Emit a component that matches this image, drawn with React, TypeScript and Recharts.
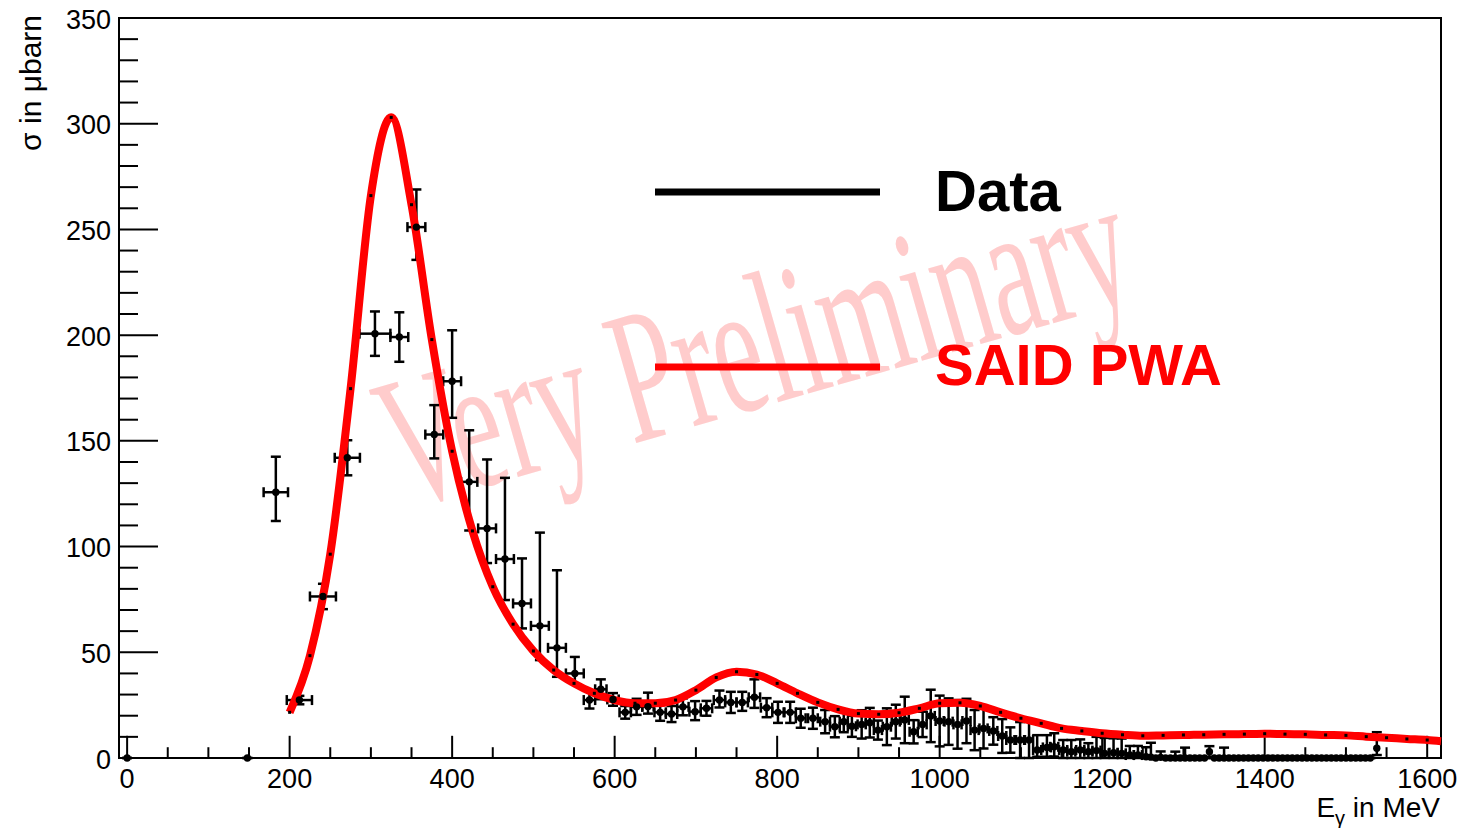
import React from 'react';
import {
  ComposedChart, Line, Scatter, ErrorBar, XAxis, YAxis, ReferenceLine, ReferenceArea,
} from 'recharts';

const W = 1464;
const H = 828;
const FONT = '"Liberation Sans", Arial, Helvetica, sans-serif';

// measured cross section: E_gamma (MeV), sigma (microbarn), asymmetric errors, half bin width
const dataE = [
  0, 148, 183, 212, 241, 271, 305, 335, 356, 378, 400, 421, 443, 465, 486, 508, 529, 551,
  569, 583, 598, 613, 627, 641, 656, 670, 684, 699, 713, 729, 743, 757, 772, 787, 801, 816, 829, 844, 859, 871, 882, 892,
  904, 914, 924, 935, 946, 957, 968, 979, 989, 1000, 1011, 1022, 1033, 1043, 1054, 1066, 1077, 1087, 1099, 1110,
  1120, 1132, 1141, 1152, 1162, 1173, 1183, 1193, 1203, 1214, 1224, 1234, 1244,
];
const dataSigma = [
  0, 0, 125.7, 27.4, 76.4, 142, 200.7, 199.1, 251.1, 153, 178.2, 130.6, 108.6, 94.1, 73.1, 62.5, 52.1, 40,
  27.4, 32.5, 27.7, 21.6, 24.2, 24.3, 21.6, 20.8, 24.2, 21.9, 23.5, 27.4, 26.3, 26.3, 28.7, 23.8, 21.6, 21.6, 18.8, 18.8, 17.2, 14.8, 17.2, 15,
  15.9, 16.7, 13.2, 14.8, 17.2, 18, 12.4, 15.9, 19.9, 17.5, 17.2, 15.9, 17.5, 13.2, 14, 12.8, 10.4, 8.5, 8.5, 8.5,
  3.8, 5, 5.3, 3.8, 3, 3.8, 3, 3.5, 2.2, 2.5, 2.2, 1.4, 1.4,
];
const dataErrLo = [
  0, 0, 13.6, 2, 6, 8.3, 10.5, 11.7, 15.5, 11.3, 17.3, 23, 16.4, 19.4, 11.8, 16.2, 13.7, 4.7,
  4, 4.7, 3, 3, 3.8, 3.3, 4, 3.8, 4, 4, 3.5, 3.5, 5, 4, 5, 4.5, 5, 5, 4.5, 5, 5.5, 5, 5, 5,
  6.7, 7, 4.5, 8.7, 8, 11, 5.5, 6, 12.4, 12, 11, 11.5, 10.5, 9.5, 9.5, 6.5, 8, 6, 8.5, 8.5,
  3.2, 4.4, 4.6, 3.8, 3, 3.8, 3, 3.5, 2.2, 2.5, 2.2, 1.4, 1.4,
];
const dataErrHi = [
  0, 0, 16.8, 2, 6, 8.3, 10.5, 11.7, 17.8, 13.9, 24.1, 24.4, 32.6, 38.4, 21.3, 44.1, 36.7, 7.8,
  4, 4.7, 3, 3, 3.8, 6.6, 4, 3.8, 4, 5, 3.5, 4.5, 5, 5, 8.5, 4.5, 5, 5, 4.5, 5, 5.5, 5, 5, 5,
  6.7, 7, 4.5, 8.7, 8, 11, 5.5, 6, 12.4, 12, 11, 11.5, 10.5, 9.5, 9.5, 6.5, 8, 6, 8.5, 9.5,
  7, 5.8, 6.4, 4.7, 5.5, 5, 4, 6.5, 7.3, 6.8, 7, 4.3, 4.3,
];
const dataHalfBin = [
  0, 0, 15, 15.5, 16, 15.5, 19, 11, 11, 11, 11, 10, 11, 11, 11, 11, 11, 11,
  7, 7, 7, 7, 7, 7, 7, 7, 7, 7, 7, 7, 7, 7, 7, 7, 7, 7, 6, 6, 6, 6, 5, 5,
  5, 5, 5, 5, 5, 5, 5, 5, 5, 5, 5, 5, 5, 5, 5, 5, 5, 5, 5, 5,
  5, 5, 5, 5, 5, 5, 5, 5, 5, 5, 5, 5, 5,
];

// high energy tail, mostly empty bins
const tailE = [
  1254, 1260, 1266, 1272, 1278, 1284, 1290, 1296, 1302, 1308, 1314, 1320, 1326, 1332, 1338, 1344,
  1350, 1356, 1362, 1368, 1374, 1380, 1386, 1392, 1398, 1404, 1410, 1416, 1422, 1428, 1434, 1440,
  1446, 1452, 1458, 1464, 1470, 1476, 1482, 1488, 1494, 1500, 1506, 1512, 1518, 1524, 1530, 1538,
];
const tailSigma = [
  0.6, 0.4, 0, 0.3, 0, 0, 0, 0, 0, 0, 0, 0, 0, 3, 0, 0,
  0, 0, 0, 0, 0, 0, 0, 0, 0, 0, 0, 0, 0, 0, 0, 0,
  0, 0, 0, 0, 0, 0, 0, 0, 0, 0, 0, 0, 0, 0, 0, 4.6,
];
const tailErrLo = [
  0.6, 0.4, 0, 0.3, 0, 0, 0, 0, 0, 0, 0, 0, 0, 2.5, 0, 0,
  0, 0, 0, 0, 0, 0, 0, 0, 0, 0, 0, 0, 0, 0, 0, 0,
  0, 0, 0, 0, 0, 0, 0, 0, 0, 0, 0, 0, 0, 0, 0, 3.2,
];
const tailErrHi = [
  4.5, 6.8, 0, 2.8, 0, 0, 3, 0, 4.9, 0, 0, 0, 0, 2.6, 0, 0,
  4.9, 0, 0, 0, 0, 0, 0, 0, 0, 0, 0, 0, 0, 0, 0, 0,
  0, 0, 0, 0, 0, 0, 0, 0, 0, 0, 0, 0, 0, 0, 0, 7.6,
];

// SAID PWA prediction (last value read at the right frame edge)
const saidE = [
  200, 225, 250, 275, 300, 325, 350, 375, 400, 425, 450, 475, 500, 525, 550, 575, 600, 625, 650, 675,
  700, 725, 750, 775, 800, 825, 850, 875, 900, 925, 950, 975, 1000, 1025, 1050, 1075, 1100, 1125, 1150, 1175,
  1200, 1225, 1250, 1275, 1300, 1325, 1350, 1375, 1400, 1425, 1450, 1475, 1500, 1525, 1550, 1575, 1600, 1617,
];
const saidSigma = [
  21.6, 48.4, 96.4, 174.7, 266, 303, 261.7, 197.9, 145.1, 107.4, 81, 63.3, 50.6, 41.6, 35.3, 30.6, 27.4, 25.9, 25.9, 27.4,
  32.1, 38.1, 40.8, 39.5, 35.3, 30.6, 26.3, 23, 21, 20.7, 21.4, 23.5, 25.9, 26.1, 24.6, 21.6, 18.8, 16.4, 14, 12.8,
  11.7, 11, 10.5, 10.7, 10.9, 11, 11.2, 11.3, 11.5, 11.3, 11.2, 10.9, 10.7, 10.1, 9.6, 9, 8.5, 7.9,
];

const xTicks = [0, 200, 400, 600, 800, 1000, 1200, 1400, 1600];
const yTicks = [0, 50, 100, 150, 200, 250, 300, 350];
const X_MIN = -10;
const X_MAX = 1617;

const points = [
  ...dataE.map((e, i) => ({ x: e, y: dataSigma[i], ey: [dataErrLo[i], dataErrHi[i]], ex: dataHalfBin[i] })),
  ...tailE.map((e, i) => ({ x: e, y: tailSigma[i], ey: [tailErrLo[i], tailErrHi[i]], ex: 0 })),
];
const said = saidE.map((e, i) => ({ x: e, y: saidSigma[i] }));

// ROOT style ticks drawn inside the frame
const xMinor: number[] = [];
for (let v = 50; v < X_MAX; v += 50) if (v % 200 !== 0) xMinor.push(v);
const yMinor: number[] = [];
for (let v = 10; v < 350; v += 10) if (v % 50 !== 0) yMinor.push(v);

const XTick = ({ x, y, payload }: any) => (
  <text x={x} y={y + 30} textAnchor="middle" fontSize={27} fontFamily={FONT} fill="#000">
    {payload.value}
  </text>
);

const YTick = ({ x, y, payload }: any) => (
  <text x={x - 8} y={y + 10.5} textAnchor="end" fontSize={27} fontFamily={FONT} fill="#000">
    {payload.value}
  </text>
);

const tickLine = (key: string, seg: { x: number; y: number }[]) => (
  <ReferenceLine key={key} segment={seg} stroke="#000" strokeWidth={2} ifOverflow="visible" />
);

export default function App() {
  return (
    <div style={{ position: 'absolute', left: 0, top: 0, width: W, height: H, background: '#fff' }}>
      {/* watermark */}
      <svg width={W} height={H} style={{ position: 'absolute', left: 0, top: 0 }}>
        <text
          transform="translate(402,510) rotate(-16) scale(0.59,1)"
          fontFamily='"Liberation Serif", "Times New Roman", serif'
          fontSize={190}
          fill="#ffcccc"
        >
          Very Preliminary
        </text>
      </svg>

      <div style={{ position: 'absolute', left: 0, top: 0 }}>
        <ComposedChart width={W} height={H} margin={{ top: 18, right: 23, bottom: 0, left: 0 }}>
          <XAxis
            type="number"
            dataKey="x"
            domain={[X_MIN, X_MAX]}
            ticks={xTicks}
            interval={0}
            tickLine={false}
            axisLine={false}
            tickSize={0}
            tickMargin={0}
            height={70}
            tick={<XTick />}
          />
          <YAxis
            type="number"
            domain={[0, 350]}
            ticks={yTicks}
            interval={0}
            tickLine={false}
            axisLine={false}
            tickSize={0}
            tickMargin={0}
            width={119}
            tick={<YTick />}
          />

          <ReferenceArea x1={X_MIN} x2={X_MAX} y1={0} y2={350} fill="none" stroke="#000" strokeWidth={2} />
          {yTicks.map(v => tickLine(`ym${v}`, [{ x: X_MIN, y: v }, { x: X_MIN + 48, y: v }]))}
          {yMinor.map(v => tickLine(`yn${v}`, [{ x: X_MIN, y: v }, { x: X_MIN + 23.4, y: v }]))}
          {xTicks.map(v => tickLine(`xm${v}`, [{ x: v, y: 0 }, { x: v, y: 10.5 }]))}
          {xMinor.map(v => tickLine(`xn${v}`, [{ x: v, y: 0 }, { x: v, y: 5.1 }]))}

          <Scatter
            data={points}
            dataKey="y"
            isAnimationActive={false}
            shape={(p: any) => <circle cx={p.cx} cy={p.cy} r={3.7} fill="#000" />}
          >
            <ErrorBar dataKey="ey" direction="y" width={5} stroke="#000" strokeWidth={2.5} />
            <ErrorBar dataKey="ex" direction="x" width={5} stroke="#000" strokeWidth={2.5} />
          </Scatter>

          <Line
            data={said}
            dataKey="y"
            type="monotone"
            stroke="#ff0000"
            strokeWidth={8}
            isAnimationActive={false}
            dot={(p: any) =>
              p.payload.x % 25 === 0 ? (
                <rect key={`d${p.index}`} x={p.cx - 1.5} y={p.cy - 1.5} width={3} height={3} fill="#000" />
              ) : (
                <g key={`d${p.index}`} />
              )
            }
            activeDot={false}
          />
        </ComposedChart>
      </div>

      {/* legend and axis titles */}
      <svg width={W} height={H} style={{ position: 'absolute', left: 0, top: 0, pointerEvents: 'none' }}>
        <line x1={655} x2={880} y1={192} y2={192} stroke="#000" strokeWidth={7} />
        <text x={935} y={211} fontSize={58} fontWeight="bold" fontFamily={FONT} fill="#000">Data</text>
        <line x1={655} x2={880} y1={367} y2={367} stroke="#ff0000" strokeWidth={7} />
        <text x={935} y={385} fontSize={58} fontWeight="bold" fontFamily={FONT} fill="#ff0000">SAID PWA</text>

        <text x={1440} y={817} textAnchor="end" fontSize={28} fontFamily={FONT} fill="#000">
          E<tspan fontSize={20} dy={8}>γ</tspan><tspan dy={-8}> in MeV</tspan>
        </text>
        <text transform="translate(41,15) rotate(-90)" textAnchor="end" fontSize={30} fontFamily={FONT} fill="#000">
          σ in μbarn
        </text>
      </svg>
    </div>
  );
}
